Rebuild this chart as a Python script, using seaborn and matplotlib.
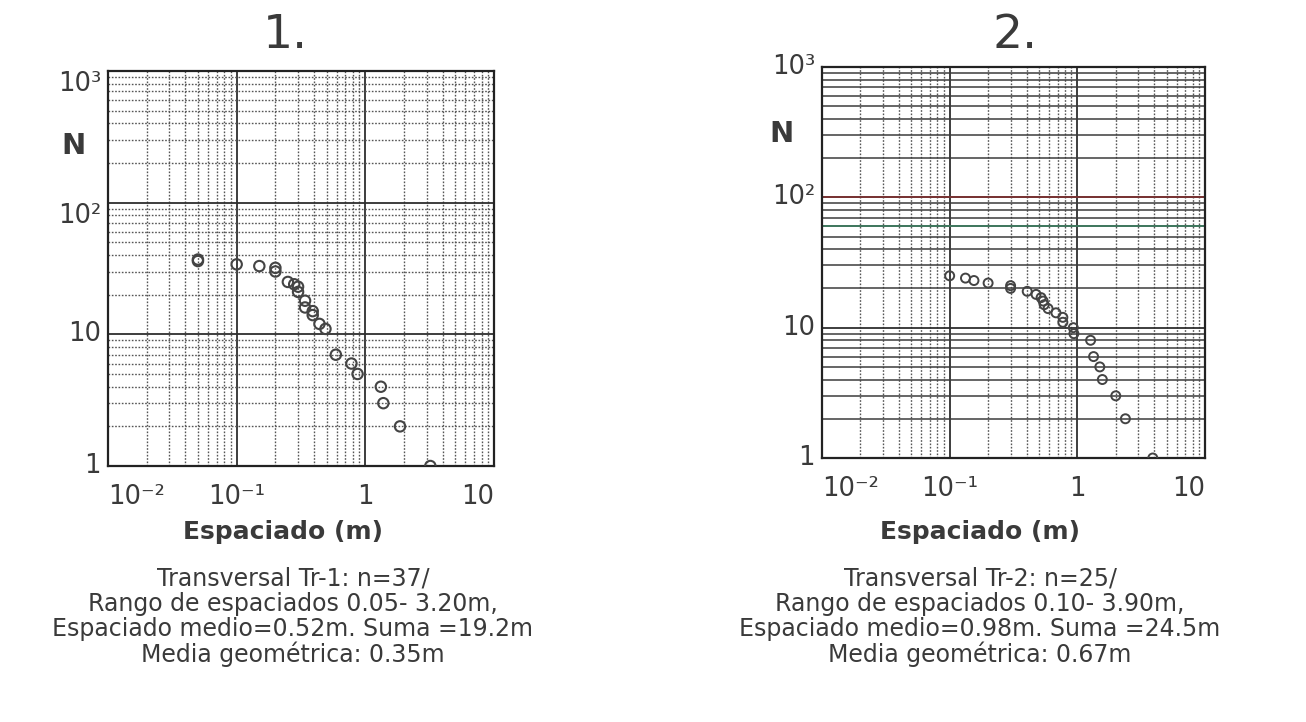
import numpy as np
import matplotlib
matplotlib.use("Agg")
import matplotlib.pyplot as plt
from matplotlib.ticker import LogLocator, NullFormatter, FixedLocator, FixedFormatter
import seaborn as sns

# Spacing (m) and cumulative number of fractures N, traverse Tr-1
spacing_tr1 = [3.20, 1.86, 1.38, 1.32, 0.87, 0.78, 0.59, 0.49, 0.44, 0.39, 0.39, 0.34,
               0.34, 0.30, 0.30, 0.28, 0.25, 0.20, 0.20, 0.15, 0.10, 0.05, 0.05]
count_tr1 = [1, 2, 3, 4, 5, 6, 7, 11, 12, 14, 15, 16, 18, 21, 23, 24, 25, 30, 32, 33, 34, 36, 37]

# Spacing (m) and cumulative number of fractures N, traverse Tr-2
spacing_tr2 = [3.90, 2.38, 2.00, 1.57, 1.50, 1.34, 1.27, 0.94, 0.93, 0.77, 0.77, 0.68,
               0.59, 0.55, 0.54, 0.52, 0.475, 0.405, 0.30, 0.30, 0.20, 0.155, 0.133, 0.10]
count_tr2 = [1, 2, 3, 4, 5, 6, 8, 9, 10, 11, 12, 13, 14, 15, 16, 17, 18, 19, 20, 21,
             22, 23, 24, 25]

panel_titles = ["1.", "2."]
x_label = "Espaciado (m)"
y_label = "N"
x_tick_values = [0.01, 0.1, 1, 10]
x_tick_labels = ["10\u207b\u00b2", "10\u207b\u00b9", "1", "10"]
y_tick_values = [1, 10, 100, 1000]
y_tick_labels = ["1", "10", "10\u00b2", "10\u00b3"]

captions = [
    ["Transversal Tr-1: n=37/",
     "Rango de espaciados 0.05- 3.20m,",
     "Espaciado medio=0.52m. Suma =19.2m",
     "Media geométrica: 0.35m"],
    ["Transversal Tr-2: n=25/",
     "Rango de espaciados 0.10- 3.90m,",
     "Espaciado medio=0.98m. Suma =24.5m",
     "Media geométrica: 0.67m"],
]

sns.set_theme(style="white")
plt.rcParams["font.family"] = ["DejaVu Sans"]

INK = "#3a3a3a"
W, H = 1306, 722
fig = plt.figure(figsize=(W / 100, H / 100), dpi=100)
fig.patch.set_facecolor("white")


def px_box(x0, y0, x1, y1):
    return [x0 / W, 1 - y1 / H, (x1 - x0) / W, (y1 - y0) / H]


def fx(x):
    return x / W


def fy(y):
    return 1 - y / H


boxes = [px_box(108, 71, 494, 466), px_box(822, 67, 1205, 458)]
data = [(spacing_tr1, count_tr1, 56, 1.5), (spacing_tr2, count_tr2, 42, 1.4)]

for i, (box, (xs, ns, msize, mlw)) in enumerate(zip(boxes, data)):
    ax = fig.add_axes(box)
    ax.set_xscale("log")
    ax.set_yscale("log")
    ax.set_xlim(0.01, 10)
    ax.set_ylim(1, 1000)
    ax.set_axisbelow(True)

    sns.scatterplot(x=xs, y=ns, ax=ax, marker="o", s=msize,
                    facecolor="none", edgecolor="#444444", linewidth=mlw,
                    zorder=5, legend=False)

    ax.xaxis.set_major_locator(FixedLocator(x_tick_values))
    ax.xaxis.set_major_formatter(FixedFormatter(x_tick_labels))
    ax.yaxis.set_major_locator(FixedLocator(y_tick_values))
    ax.yaxis.set_major_formatter(FixedFormatter(y_tick_labels))
    for axis in (ax.xaxis, ax.yaxis):
        axis.set_minor_locator(LogLocator(base=10, subs=np.arange(2, 10), numticks=30))
        axis.set_minor_formatter(NullFormatter())

    ax.tick_params(which="both", length=0)
    ax.tick_params(axis="x", which="major", pad=13, labelsize=18.5, labelcolor=INK)
    ax.tick_params(axis="y", which="major", pad=5, labelsize=18.5, labelcolor=INK)

    xl = ax.get_xticklabels()
    xl[0].set_horizontalalignment("left")
    xl[-1].set_horizontalalignment("right")
    for lab in ax.get_yticklabels():
        if i == 0 and len(lab.get_text()) > 2:
            lab.set_verticalalignment("top")
        else:
            lab.set_verticalalignment("center")

    ax.grid(which="major", axis="both", color="#2e2e2e", linewidth=1.3, linestyle="-")
    ax.grid(which="minor", axis="x", color="#555555", linewidth=1.0,
            linestyle=(0, (1.2, 1.2)))
    if i == 0:
        ax.grid(which="minor", axis="y", color="#555555", linewidth=1.0,
                linestyle=(0, (1.2, 1.2)))
    else:
        ax.grid(which="minor", axis="y", color="#3c3c3c", linewidth=1.1, linestyle="-")
        ax.axhline(100, color="#7a3434", linewidth=1.4, zorder=1)
        ax.axhline(60, color="#3d7a5e", linewidth=1.3, zorder=1)

    for sp in ax.spines.values():
        sp.set_visible(True)
        sp.set_color("#222222")
        sp.set_linewidth(1.6)

# Panel titles, axis labels and captions
title_x = [285, 1015]
label_x = [283, 980]
caption_x = [293, 980]
n_pos = [(74, 146), (782, 134)]
for i in range(2):
    fig.text(fx(title_x[i]), fy(36), panel_titles[i], ha="center", va="center",
             fontsize=34, color=INK)
    fig.text(fx(n_pos[i][0]), fy(n_pos[i][1]), y_label, ha="center", va="center",
             fontsize=21, fontweight="bold", color=INK)
    fig.text(fx(label_x[i]), fy(532), x_label, ha="center", va="center",
             fontsize=18, fontweight="bold", color=INK)
    fig.text(fx(caption_x[i]), fy(567), "\n".join(captions[i]), ha="center",
             va="top", multialignment="center", linespacing=1.04,
             fontsize=17, color=INK)

fig.savefig("out.png", dpi=100, facecolor="white")
